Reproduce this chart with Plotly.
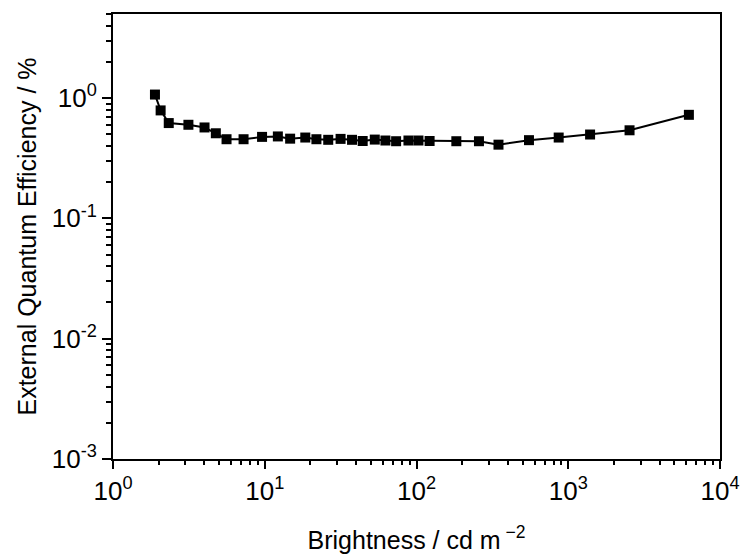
import plotly.graph_objects as go

brightness = [1.89, 2.06, 2.33, 3.14, 4.01, 4.76, 5.6, 7.25, 9.6, 12.2, 14.7, 18.5,
              21.9, 26.2, 31.6, 37.6, 44.2, 53.1, 62.4, 73.4, 88.5, 103, 122,
              183, 258, 347, 551, 865, 1393, 2535, 6237]
eqe = [1.07, 0.79, 0.62, 0.60, 0.57, 0.51, 0.455, 0.455, 0.476, 0.48, 0.46, 0.47,
       0.455, 0.45, 0.458, 0.45, 0.44, 0.452, 0.444, 0.438, 0.444, 0.444, 0.44,
       0.438, 0.438, 0.41, 0.447, 0.47, 0.498, 0.54, 0.726]

x_tickvals = [1, 10, 100, 1000, 10000]
x_ticktext = ["10<sup>0</sup>", "10<sup>1</sup>", "10<sup>2</sup>", "10<sup>3</sup>", "10<sup>4</sup>"]
y_tickvals = [0.001, 0.01, 0.1, 1]
y_ticktext = ["10<sup>-3</sup>", "10<sup>-2</sup>", "10<sup>-1</sup>", "10<sup>0</sup>"]

x_minor = [m * d for d in [1, 10, 100, 1000] for m in range(2, 10)]
y_minor = [m * d for d in [0.001, 0.01, 0.1, 1] for m in range(2, 10)]

fig = go.Figure()
fig.add_trace(go.Scatter(
    x=brightness, y=eqe, mode="lines+markers",
    line=dict(color="black", width=2),
    marker=dict(symbol="square", size=10, color="black"),
    showlegend=False,
))

font = "Liberation Sans, Arial, sans-serif"
fig.update_layout(
    width=741, height=560,
    margin=dict(l=113, r=21, t=14, b=101),
    paper_bgcolor="white", plot_bgcolor="white",
    font=dict(family=font, size=26, color="black"),
    xaxis=dict(
        type="log", range=[0, 4], automargin=False,
        tickvals=x_tickvals, ticktext=x_ticktext,
        ticks="outside", ticklen=8, tickwidth=2, tickcolor="black",
        minor=dict(tickvals=x_minor, ticks="outside", ticklen=4, tickwidth=2, tickcolor="black", showgrid=False),
        showline=True, linecolor="black", linewidth=2, mirror=True,
        showgrid=False, zeroline=False,
        tickfont=dict(size=26),
        title=dict(text="Brightness / cd m<sup> \u22122</sup>", font=dict(size=25), standoff=26),
    ),
    yaxis=dict(
        type="log", range=[-3, 0.699], automargin=False,
        tickvals=y_tickvals, ticktext=y_ticktext,
        ticks="outside", ticklen=9, tickwidth=2, tickcolor="black",
        minor=dict(tickvals=y_minor, ticks="outside", ticklen=5, tickwidth=2, tickcolor="black", showgrid=False),
        showline=True, linecolor="black", linewidth=2, mirror=True,
        showgrid=False, zeroline=False,
        tickfont=dict(size=26),
        title=dict(text="External Quantum Efficiency / %", font=dict(size=25), standoff=8),
    ),
)

fig.write_html("out.html")
